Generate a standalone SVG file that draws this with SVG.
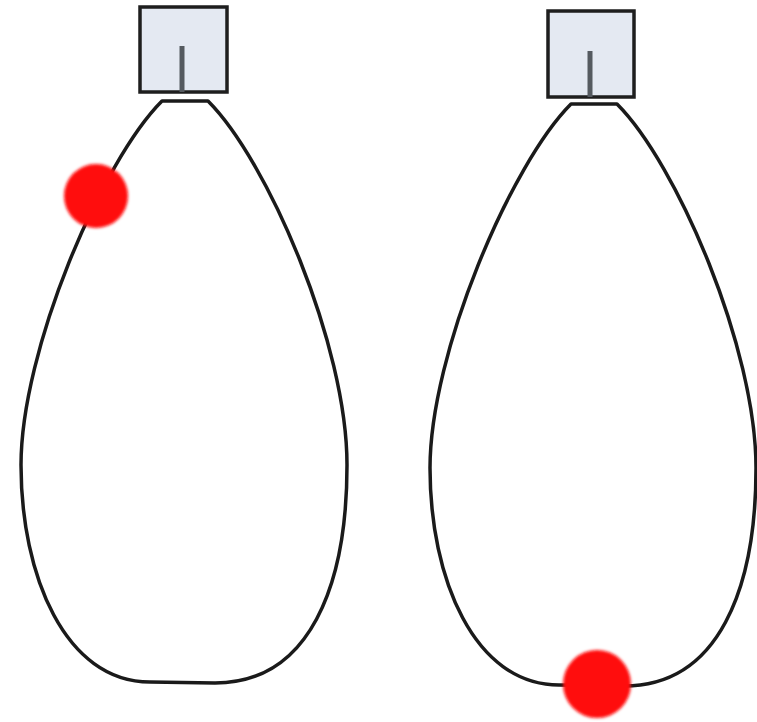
<svg xmlns="http://www.w3.org/2000/svg" width="757" height="722" viewBox="0 0 757 722">
<style>
.box{fill:#e4e9f2;stroke:#1e1e1e;stroke-width:3.5}
.rod{stroke:#555a60;stroke-width:5}
.loop{fill:none;stroke:#1a1a1a;stroke-width:3.5;stroke-linejoin:round}
.dot{fill:#ff0a0a;filter:url(#soft)}
</style>
<defs>
<filter id="soft" x="-20%" y="-20%" width="140%" height="140%"><feGaussianBlur stdDeviation="1.5"/></filter>
<path id="loopPath" d="M 208,101 L 162,101 C 102,161 21,350 21,465 C 21,575 65,682 150,682 L 215,683 C 310,683 347,585 347,465 C 347,345 268,161 208,101 Z"/>
</defs>
<rect width="757" height="722" fill="#fff"/>
<g id="connectors">
<use href="#loopPath" class="loop"/>
<use href="#loopPath" class="loop" transform="translate(409,3)"/>
</g>
<g id="support-left">
<rect class="box" x="140" y="7" width="87" height="85"/>
<line class="rod" x1="182" y1="46" x2="182" y2="92"/>
</g>
<g id="support-right">
<rect class="box" x="548" y="11" width="86" height="86"/>
<line class="rod" x1="590" y1="51" x2="590" y2="97"/>
</g>
<g id="ball-left"><circle class="dot" cx="96" cy="196" r="32"/></g>
<g id="ball-right"><circle class="dot" cx="597" cy="684" r="34"/></g>
</svg>
